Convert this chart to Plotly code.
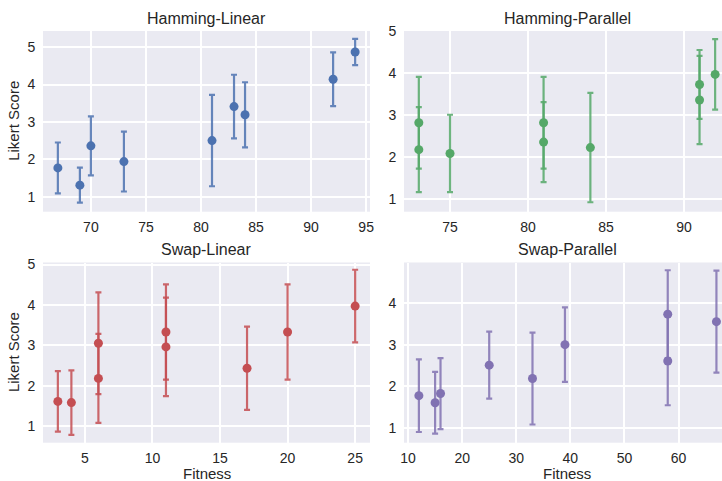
import plotly.graph_objects as go

# ---- data ----
hl_x = [67, 69, 70, 73, 81, 83, 84, 92, 94]
hl_y = [1.77, 1.31, 2.36, 1.94, 2.50, 3.41, 3.19, 4.14, 4.87]
hl_err = [0.68, 0.47, 0.79, 0.80, 1.22, 0.85, 0.87, 0.72, 0.35]

hp_x = [73, 73, 75, 81, 81, 84, 91, 91, 92]
hp_y = [2.82, 2.18, 2.09, 2.82, 2.36, 2.23, 3.73, 3.36, 3.97]
hp_err = [1.09, 1.01, 0.92, 1.09, 0.95, 1.30, 0.82, 1.05, 0.84]

sl_x = [3, 4, 6, 6, 11, 11, 17, 20, 25]
sl_y = [1.61, 1.58, 3.05, 2.18, 3.33, 2.96, 2.43, 3.33, 3.97]
sl_err = [0.75, 0.80, 1.26, 1.10, 1.18, 1.22, 1.03, 1.18, 0.90]

sp_x = [12, 15, 16, 25, 33, 39, 58, 58, 67]
sp_y = [1.78, 1.61, 1.83, 2.51, 2.19, 3.00, 3.73, 2.61, 3.55]
sp_err = [0.87, 0.74, 0.85, 0.80, 1.10, 0.89, 1.05, 1.06, 1.22]

titles = ["Hamming-Linear", "Hamming-Parallel", "Swap-Linear", "Swap-Parallel"]
x_label = "Fitness"
y_label = "Likert Score"

W, H = 722, 481
FONT = "Liberation Sans, Arial, sans-serif"
TXT = "#262626"
colors = ["#4C72B0", "#55A868", "#C44E52", "#8172B2"]
alphas = ["rgba(76,114,176,0.85)", "rgba(85,168,104,0.85)",
          "rgba(196,78,82,0.85)", "rgba(129,114,178,0.85)"]

# panel pixel boxes (left, right, top, bottom)
boxes = [(43, 370, 31, 211.7), (404, 722, 31, 211.7),
         (43, 370, 262.5, 442.7), (404, 722, 262.5, 442.7)]
xranges = [[65.65, 95.35], [72.05, 92.44], [1.9, 26.1], [9.25, 68.03]]
yranges = [[0.6, 5.43], [0.705, 5.002], [0.587, 5.05], [0.654, 4.966]]
xticks = [[70, 75, 80, 85, 90, 95], [75, 80, 85, 90], [5, 10, 15, 20, 25],
          [10, 20, 30, 40, 50, 60]]
yticks = [[1, 2, 3, 4, 5], [1, 2, 3, 4, 5], [1, 2, 3, 4, 5], [1, 2, 3, 4]]
title_cx = [206.5, 567, 206.5, 567]
title_cy = [18, 18, 249.5, 249.5]

data = [(hl_x, hl_y, hl_err), (hp_x, hp_y, hp_err),
        (sl_x, sl_y, sl_err), (sp_x, sp_y, sp_err)]

fig = go.Figure()
layout = dict(
    width=W, height=H, margin=dict(l=0, r=0, t=0, b=0, autoexpand=False),
    paper_bgcolor="white", plot_bgcolor="#EAEAF2", showlegend=False,
    font=dict(family=FONT, color=TXT, size=14),
)
annotations = []
for i, ((xs, ys, es), (l, r, t, b)) in enumerate(zip(data, boxes)):
    n = "" if i == 0 else str(i + 1)
    fig.add_trace(go.Scatter(
        x=xs, y=ys, mode="markers",
        marker=dict(color=colors[i], size=9, line=dict(width=0)),
        error_y=dict(type="data", array=es, visible=True, color=alphas[i],
                     thickness=2.2, width=3),
        xaxis="x" + n, yaxis="y" + n, cliponaxis=False,
    ))
    common = dict(showgrid=True, gridcolor="white", gridwidth=1.5,
                  zeroline=False, showline=False, ticks="outside",
                  tickcolor="rgba(0,0,0,0)", automargin=False,
                  tickfont=dict(family=FONT, size=14, color=TXT))
    layout["xaxis" + n] = dict(common, domain=[l / W, r / W], ticklen=2,
                               range=xranges[i], tickvals=xticks[i],
                               anchor="y" + n)
    layout["yaxis" + n] = dict(common, domain=[1 - b / H, 1 - t / H],
                               ticklen=4,
                               range=yranges[i], tickvals=yticks[i],
                               anchor="x" + n)
    annotations.append(dict(text=titles[i], x=title_cx[i] / W,
                            y=1 - title_cy[i] / H, xref="paper", yref="paper",
                            xanchor="center", yanchor="middle", showarrow=False,
                            font=dict(family=FONT, size=16, color=TXT)))

for cy in [121.3, 352.6]:
    annotations.append(dict(text=y_label, x=13.5 / W, y=1 - cy / H,
                            xref="paper", yref="paper", textangle=-90,
                            xanchor="center", yanchor="middle", showarrow=False,
                            font=dict(family=FONT, size=15, color=TXT)))
for cx in [206.5, 567]:
    annotations.append(dict(text=x_label, x=cx / W, y=1 - 473.5 / H,
                            xref="paper", yref="paper",
                            xanchor="center", yanchor="middle", showarrow=False,
                            font=dict(family=FONT, size=15, color=TXT)))

layout["annotations"] = annotations
fig.update_layout(**layout)
fig.write_html(
    "out.html",
    config={"displayModeBar": False},
    post_script="document.body.style.margin='0';document.body.style.overflow='hidden';",
)
